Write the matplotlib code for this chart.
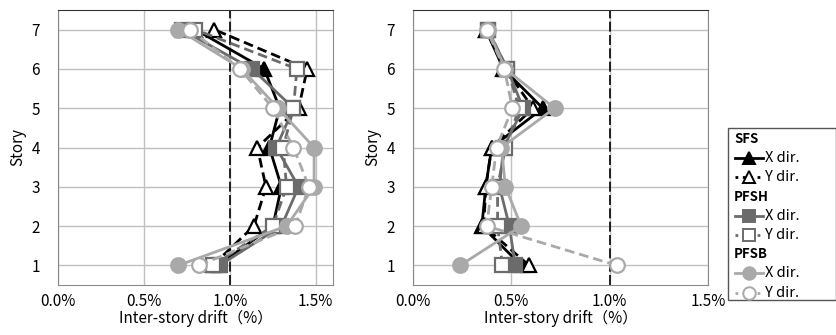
import matplotlib
matplotlib.use("Agg")
import matplotlib.pyplot as plt
from matplotlib.lines import Line2D
from matplotlib.patches import Rectangle

plt.rcParams["font.family"] = ["Noto Sans CJK JP", "DejaVu Sans"]

stories = [1, 2, 3, 4, 5, 6, 7]

# left panel, drift in %
left_sfs_x = [0.93, 1.25, 1.30, 1.23, 1.29, 1.20, 0.80]
left_sfs_y = [0.90, 1.14, 1.21, 1.16, 1.40, 1.45, 0.91]
left_pfsh_x = [0.94, 1.30, 1.40, 1.27, 1.37, 1.13, 0.72]
left_pfsh_y = [0.90, 1.25, 1.33, 1.31, 1.37, 1.39, 0.80]
left_pfsb_x = [0.70, 1.33, 1.49, 1.49, 1.28, 1.07, 0.70]
left_pfsb_y = [0.82, 1.38, 1.46, 1.37, 1.25, 1.06, 0.77]

# right panel
right_sfs_x = [0.55, 0.35, 0.37, 0.40, 0.66, 0.46, 0.37]
right_sfs_y = [0.59, 0.36, 0.37, 0.40, 0.61, 0.47, 0.37]
right_pfsh_x = [0.52, 0.49, 0.44, 0.46, 0.56, 0.48, 0.38]
right_pfsh_y = [0.455, 0.43, 0.43, 0.47, 0.54, 0.48, 0.38]
right_pfsb_x = [0.24, 0.55, 0.47, 0.45, 0.72, 0.47, 0.38]
right_pfsb_y = [1.035, 0.375, 0.40, 0.425, 0.505, 0.465, 0.375]

xticks = [0.0, 0.5, 1.0, 1.5]
xtick_labels = ["0.0%", "0.5%", "1.0%", "1.5%"]

BLACK = "#000000"
DARK = "#6b6b6b"
LIGHT = "#a9a9a9"

# color, linestyle, marker, facecolor
STYLES = {
    "sfs_x": (BLACK, "-", "^", BLACK),
    "sfs_y": (BLACK, "--", "^", "white"),
    "pfsh_x": (DARK, "-", "s", DARK),
    "pfsh_y": (DARK, "--", "s", "white"),
    "pfsb_x": (LIGHT, "-", "o", LIGHT),
    "pfsb_y": (LIGHT, "--", "o", "white"),
}


def draw_panel(ax, series, xmax):
    for key, vals in series:
        color, ls, marker, face = STYLES[key]
        ax.plot(vals, stories, color=color, linestyle=ls, linewidth=2.0,
                marker=marker, markersize=10.5, markerfacecolor=face,
                markeredgecolor=color, markeredgewidth=1.6,
                dashes=(3.5, 1.8) if ls == "--" else (None, None),
                zorder=3)
    ax.axvline(1.0, color="black", linestyle=(0, (6, 2)), linewidth=1.2,
               zorder=2)
    ax.set_xlim(0, xmax)
    ax.set_ylim(0.5, 7.5)
    ax.set_xticks(xticks)
    ax.set_xticklabels(xtick_labels)
    ax.set_yticks(stories)
    ax.grid(True, color="#c0c0c0", linewidth=1.0, zorder=0)
    ax.set_axisbelow(True)
    ax.tick_params(axis="x", length=0, labelsize=11, pad=6)
    ax.tick_params(axis="y", length=0, labelsize=11, pad=13)
    for s in ax.spines.values():
        s.set_color("#8a8a8a")
    ax.spines["top"].set_color("#333333")
    ax.set_xlabel("Inter-story drift（%）", fontsize=11, labelpad=0)
    ax.set_ylabel("Story", fontsize=11, labelpad=4)


fig = plt.figure(figsize=(8.37, 3.35), dpi=100)
ax1 = fig.add_axes([58 / 837, 50 / 335, 275 / 837, 275 / 335])
ax2 = fig.add_axes([413 / 837, 50 / 335, 295 / 837, 275 / 335])

draw_panel(ax1, [("sfs_x", left_sfs_x), ("sfs_y", left_sfs_y),
                 ("pfsh_x", left_pfsh_x), ("pfsh_y", left_pfsh_y),
                 ("pfsb_x", left_pfsb_x), ("pfsb_y", left_pfsb_y)], 1.6)
draw_panel(ax2, [("sfs_x", right_sfs_x), ("sfs_y", right_sfs_y),
                 ("pfsh_x", right_pfsh_x), ("pfsh_y", right_pfsh_y),
                 ("pfsb_x", right_pfsb_x), ("pfsb_y", right_pfsb_y)], 1.5)

# hand-built legend box on the right, in pixel units
W, H = 837.0, 335.0


def fx(px):
    return px / W


def fy(py):
    return 1 - py / H


fig.patches.append(Rectangle((fx(728), fy(300)), fx(836) - fx(728),
                             fy(128) - fy(300), transform=fig.transFigure,
                             facecolor="white", edgecolor="#555555",
                             linewidth=1.0))

groups = [("SFS", "sfs_x", "sfs_y"), ("PFSH", "pfsh_x", "pfsh_y"),
          ("PFSB", "pfsb_x", "pfsb_y")]
row = 139
step = 19.2
for name, kx, ky in groups:
    fig.text(fx(734), fy(row), name, fontsize=9.5, fontweight="bold",
             va="center", ha="left")
    row += step
    for key, lab in ((kx, "X dir."), (ky, "Y dir.")):
        color, ls, marker, face = STYLES[key]
        fig.add_artist(Line2D([fx(735), fx(763)], [fy(row), fy(row)],
                              transform=fig.transFigure, color=color,
                              linestyle=":" if ls == "--" else "-",
                              linewidth=2.0))
        fig.add_artist(Line2D([fx(749)], [fy(row)],
                              transform=fig.transFigure, color=color,
                              marker=marker, markersize=9,
                              markerfacecolor=face, markeredgecolor=color,
                              markeredgewidth=1.4))
        fig.text(fx(765), fy(row), lab, fontsize=10.5, va="center",
                 ha="left")
        row += step

fig.savefig("out.png", dpi=100)
